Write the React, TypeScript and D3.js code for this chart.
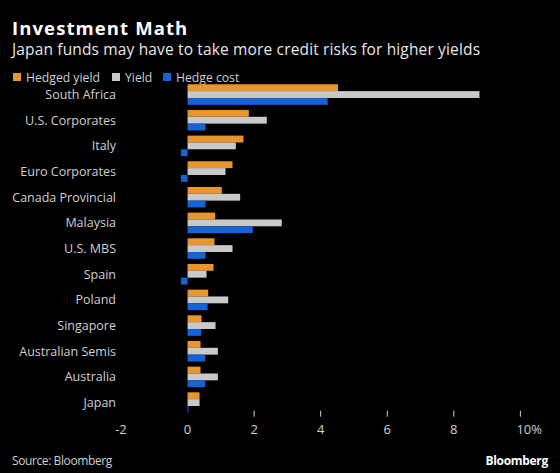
import React from "react";
import * as d3 from "d3";

const categories = [
  "South Africa",
  "U.S. Corporates",
  "Italy",
  "Euro Corporates",
  "Canada Provincial",
  "Malaysia",
  "U.S. MBS",
  "Spain",
  "Poland",
  "Singapore",
  "Australian Semis",
  "Australia",
  "Japan",
];
const hedgedYield = [4.52, 1.84, 1.68, 1.35, 1.03, 0.83, 0.81, 0.78, 0.62, 0.42, 0.39, 0.39, 0.36];
const yieldVals = [8.77, 2.38, 1.45, 1.14, 1.58, 2.83, 1.35, 0.57, 1.22, 0.84, 0.91, 0.91, 0.36];
const hedgeCost = [4.21, 0.54, -0.2, -0.2, 0.54, 1.96, 0.54, -0.2, 0.6, 0.41, 0.53, 0.53, 0.03];
const seriesNames = ["Hedged yield", "Yield", "Hedge cost"];
const seriesColors = ["#E8952E", "#C9C9C9", "#1763D6"];
const xTicks = [-2, 0, 2, 4, 6, 8, 10];

export default function App() {
  const W = 560, H = 473;
  const x = d3.scaleLinear().domain([-2, 10]).range([121, 520.4]);
  const y = d3
    .scaleBand<string>()
    .domain(categories)
    .range([81.7, 81.7 + 13 * 25.67])
    .paddingInner(0.2)
    .paddingOuter(0.1);
  const sub = d3.scaleBand<number>().domain([0, 1, 2]).range([0, y.bandwidth()]);
  const series = [hedgedYield, yieldVals, hedgeCost];
  const font = "'Open Sans', 'DejaVu Sans', sans-serif";
  const legendX = [13, 112, 163];

  return (
    <svg width={W} height={H} style={{ position: "absolute", left: 0, top: 0, background: "#000" }}>
      <rect width={W} height={H} fill="#000" />
      <text x={12} y={35} fill="#fff" fontFamily={font} fontWeight={700} fontSize={18.5} letterSpacing={1.1}>
        Investment Math
      </text>
      <text x={12} y={55} fill="#e6e6e6" fontFamily={font} fontSize={15.5} letterSpacing={0.15}>
        Japan funds may have to take more credit risks for higher yields
      </text>
      {seriesNames.map((n, i) => (
        <g key={n}>
          <rect x={legendX[i]} y={73} width={8} height={8} fill={seriesColors[i]} />
          <text x={legendX[i] + 13} y={81.5} fill="#cfcfcf" fontFamily={font} fontSize={12.2}>
            {n}
          </text>
        </g>
      ))}
      {categories.map((c, ci) => (
        <g key={c}>
          <text
            x={116}
            y={(y(c) ?? 0) + y.bandwidth() / 2}
            dy="0.35em"
            textAnchor="end"
            fill="#cfcfcf"
            fontFamily={font}
            fontSize={12.5}
          >
            {c}
          </text>
          {series.map((s, si) => {
            const v = s[ci];
            const x0 = x(Math.min(0, v));
            const x1 = x(Math.max(0, v));
            return (
              <rect
                key={si}
                x={x0}
                y={(y(c) ?? 0) + (sub(si) ?? 0)}
                width={Math.max(1, x1 - x0)}
                height={sub.bandwidth()}
                fill={seriesColors[si]}
              />
            );
          })}
        </g>
      ))}
      {xTicks.map((t) => (
        <g key={t}>
          {t > 0 && <line x1={x(t)} x2={x(t)} y1={410.7} y2={416.7} stroke="#cfcfcf" strokeWidth={1} />}
          <text
            x={t === 10 ? x(t) - 4 : x(t)}
            y={429.5}
            dy="0.35em"
            textAnchor={t === 10 ? "start" : "middle"}
            fill="#cfcfcf"
            fontFamily={font}
            fontSize={13}
          >
            {t === 10 ? "10%" : String(t)}
          </text>
        </g>
      ))}
      <text x={12} y={465} fill="#cfcfcf" fontFamily={font} fontSize={12} letterSpacing={-0.4}>
        Source: Bloomberg
      </text>
      <text x={548} y={465} textAnchor="end" fill="#fff" fontFamily={font} fontWeight={700} fontSize={12} letterSpacing={-0.3}>
        Bloomberg
      </text>
    </svg>
  );
}
